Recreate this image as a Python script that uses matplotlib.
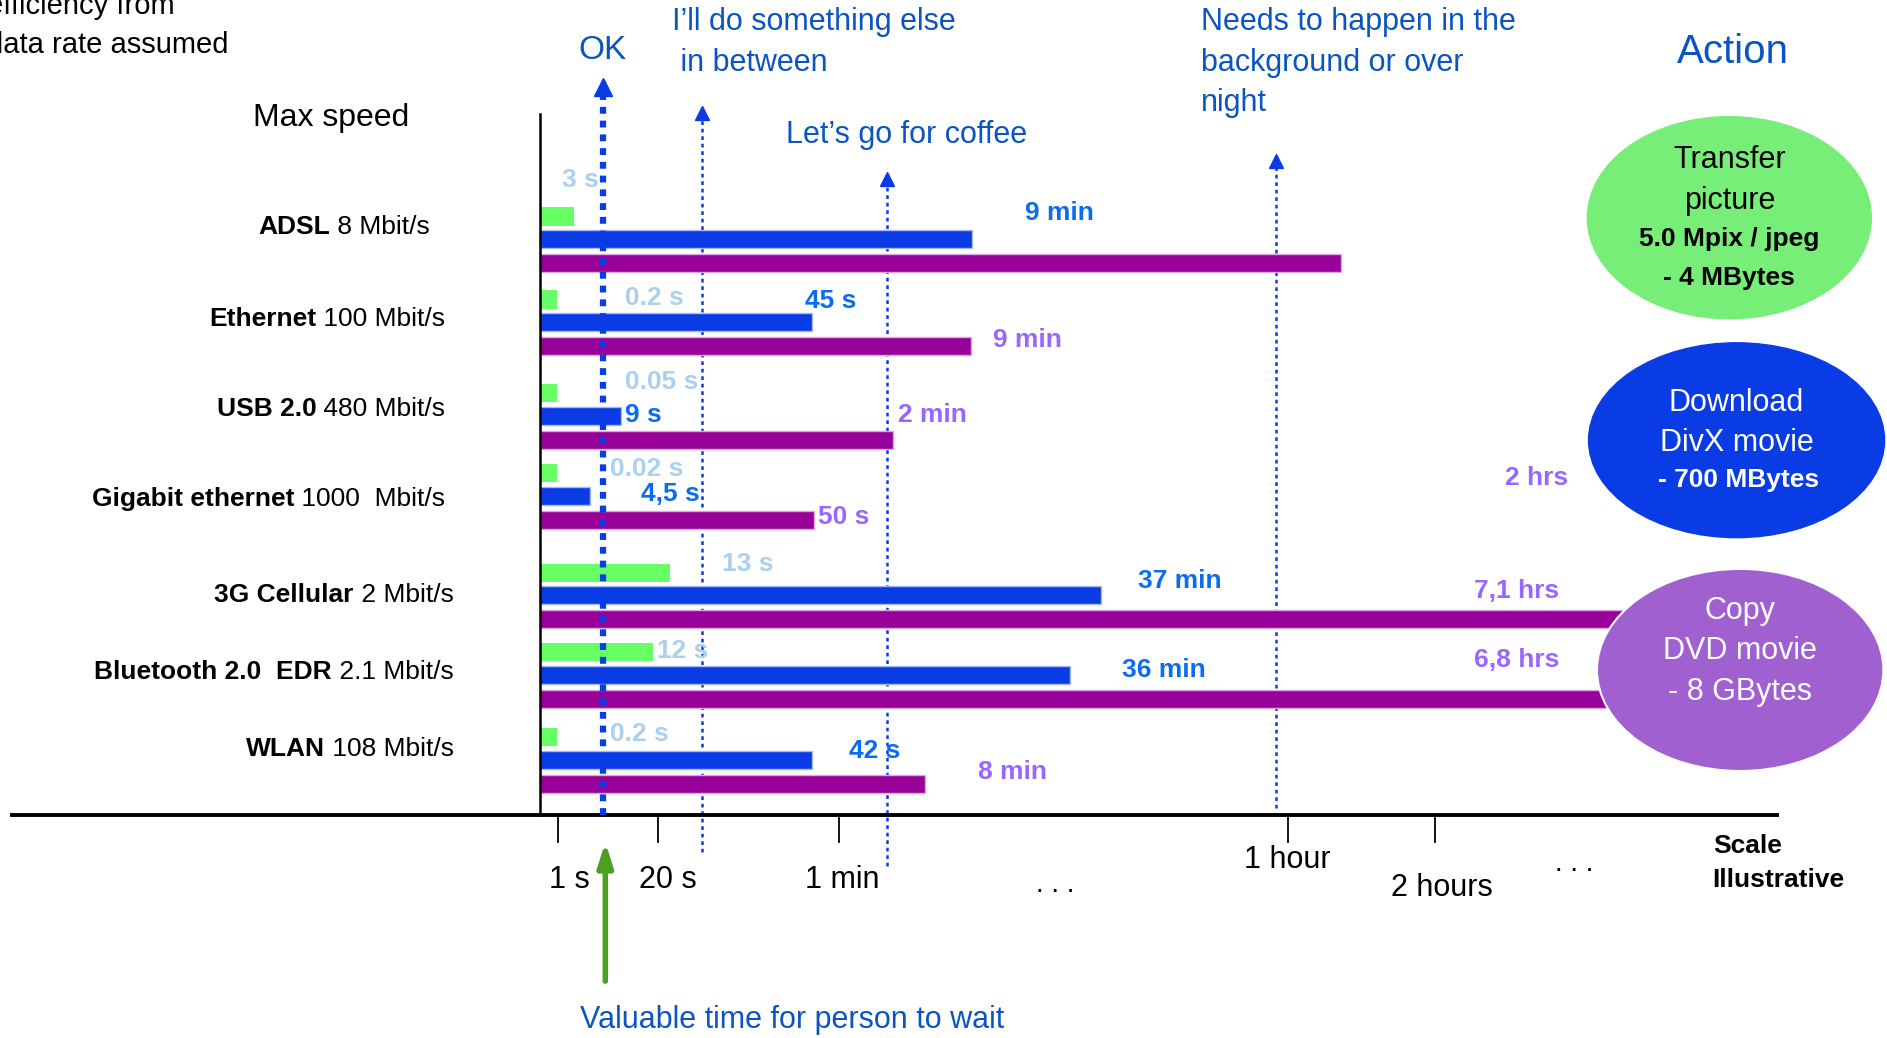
import matplotlib.pyplot as plt
from matplotlib.patches import Ellipse

plt.rcParams['font.family'] = ['Liberation Sans Narrow', 'Liberation Sans', 'DejaVu Sans']

# --- data (lengths on the illustrative time scale) ---
links = ['ADSL', 'Ethernet', 'USB 2.0', 'Gigabit ethernet', '3G Cellular', 'Bluetooth 2.0  EDR', 'WLAN']
speeds = [' 8 Mbit/s', ' 100 Mbit/s', ' 480 Mbit/s', ' 1000  Mbit/s', ' 2 Mbit/s', ' 2.1 Mbit/s', ' 108 Mbit/s']
picture_len = [28, 14, 14, 14, 108, 94, 14]
divx_len = [359, 226, 67, 41, 466, 440, 226]
dvd_len = [665, 358, 293, 227, 900, 896, 320]
picture_lbl = ['3 s', '0.2 s', '0.05 s', '0.02 s', '13 s', '12 s', '0.2 s']
divx_lbl = ['9 min', '45 s', '9 s', '4,5 s', '37 min', '36 min', '42 s']
dvd_lbl = ['2 hrs', '9 min', '2 min', '50 s', '7,1 hrs', '6,8 hrs', '8 min']

tick_lbl = ['1 s', '20 s', '1 min', '1 hour', '2 hours']
tick_pos = [15, 98, 248, 621, 743]

# --- layout (figure drawn in a 1568 x 863 frame) ---
x0 = 449
row_y = [199, 268, 346, 412, 495, 561, 632]
lbl_y = [189, 265, 340, 415, 495, 559, 623]
lbl_right = [357, 370, 370, 370, 377, 377, 377]
bh = 15
pic_lbl_pos = [(482, 150), (544, 248), (550, 318), (537, 390), (621, 469), (567, 541), (531, 610)]
divx_lbl_pos = [(880, 177), (690, 250), (535, 345), (557, 411), (980, 483), (967, 557), (727, 624)]
dvd_lbl_pos = [(1277, 397), (854, 283), (775, 345), (701, 430), (1260, 491), (1260, 549), (841, 642)]

GREEN = '#66FF66'
BLUE = '#0A3CE6'
PURPLE = '#990099'
C_LIGHT = '#AAD0F0'
C_BLUE = '#0A6CF0'
C_PURPLE = '#9966FF'
NOTE = '#0A55C0'

fig = plt.figure(figsize=(18.87, 10.38), dpi=100)
ax = fig.add_axes([0, 0, 1, 1])
ax.set_xlim(0, 1568)
ax.set_ylim(863, 0)
ax.axis('off')

ax.barh([y - 19 for y in row_y], picture_len, left=x0, height=bh, color=GREEN, zorder=3)
ax.barh(row_y, divx_len, left=x0, height=bh, color=BLUE, edgecolor='#A8B8F0', lw=1, zorder=3)
ax.barh([y + 20 for y in row_y], dvd_len, left=x0, height=bh, color=PURPLE, edgecolor='#D8A8E0', lw=1, zorder=3)

for i in range(len(links)):
    ax.text(pic_lbl_pos[i][0], pic_lbl_pos[i][1], picture_lbl[i], color=C_LIGHT, fontsize=19,
            fontweight='bold', ha='center', va='center', zorder=5)
    ax.text(divx_lbl_pos[i][0], divx_lbl_pos[i][1], divx_lbl[i], color=C_BLUE, fontsize=19,
            fontweight='bold', ha='center', va='center', zorder=5)
    ax.text(dvd_lbl_pos[i][0], dvd_lbl_pos[i][1], dvd_lbl[i], color=C_PURPLE, fontsize=19,
            fontweight='bold', ha='center', va='center', zorder=5)
    t = ax.text(lbl_right[i], lbl_y[i], speeds[i], fontsize=19, ha='right', va='center', color='black')
    ax.annotate(links[i], xycoords=t, xy=(0, 0.5), ha='right', va='center', fontsize=19,
                fontweight='bold', color='black')

# axes lines
ax.plot([x0, x0], [95, 678], color='black', lw=1.8, zorder=4)
ax.plot([10, 1477], [678, 678], color='black', lw=2.8, zorder=4)
for p in tick_pos:
    ax.plot([x0 + p, x0 + p], [680, 700], color='black', lw=1.3)
lbl_xy = [(473, 732), (555, 732), (700, 732), (1070, 715), (1198, 738)]
for (x, y), lbl in zip(lbl_xy, tick_lbl):
    ax.text(x, y, lbl, fontsize=22, ha='center', va='center')
ax.text(877, 736, '. . .', fontsize=20, ha='center', va='center')
ax.text(1308, 718, '. . .', fontsize=20, ha='center', va='center')
ax.text(1452, 703, 'Scale', fontsize=19, fontweight='bold', ha='center', va='center')
ax.text(1478, 732, 'Illustrative', fontsize=19, fontweight='bold', ha='center', va='center')

# waiting thresholds
ax.plot([501, 501], [678, 78], color='#0A3CE6', lw=4.5, ls=(0, (1.1, 1.1)), zorder=4)
ax.plot(501, 72, marker='^', ms=13, color='#0A3CE6', zorder=4)
for x, yb, yt in [(583, 708, 100), (737, 720, 155), (1060, 672, 140)]:
    ax.plot([x, x], [yb, yt], color='#0A3CE6', lw=1.8, ls=(0, (1.5, 1.5)), zorder=2)
    ax.plot(x, yt - 6, marker='^', ms=10, color='#0A3CE6', zorder=4)

ax.text(501, 42, 'OK', fontsize=24, color=NOTE, ha='center', va='center')
for k, line in enumerate(['I\u2019ll do something else', ' in between']):
    ax.text(558, 18 + 34 * k, line, fontsize=22, color=NOTE, ha='left', va='center')
ax.text(653, 112, 'Let\u2019s go for coffee', fontsize=22, color=NOTE, ha='left', va='center')
for k, line in enumerate(['Needs to happen in the', 'background or over', 'night']):
    ax.text(998, 18 + 34 * k, line, fontsize=22, color=NOTE, ha='left', va='center')
ax.text(-11, 5, 'efficiency from', fontsize=21, ha='left', va='center')
ax.text(-11, 37, 'data rate assumed', fontsize=21, ha='left', va='center')
ax.text(275, 98, 'Max speed', fontsize=23, ha='center', va='center')

# green arrow
ax.annotate('', xy=(503, 698), xytext=(503, 818),
            arrowprops=dict(arrowstyle='-|>,head_length=1.4,head_width=0.45', color='#4CA020', lw=4))
ax.text(658, 848, 'Valuable time for person to wait', fontsize=22, color=NOTE, ha='center', va='center')

# actions
wide = ['Liberation Sans', 'DejaVu Sans']
ax.text(1440, 43, 'Action', fontsize=29, color=NOTE, ha='center', va='center', family=wide)

ax.add_patch(Ellipse((1437, 181), 236, 168, color='#77EE77', zorder=6))
ax.add_patch(Ellipse((1443, 366), 246, 162, color='#0A3CE6', zorder=6))
ax.add_patch(Ellipse((1446, 557), 238, 168, facecolor='#A060D0', edgecolor='white', lw=1.5, zorder=6))

ellipse_lines = [
    (1437, 133, 'Transfer', 22, 'normal', 'black'),
    (1437, 167, 'picture', 22, 'normal', 'black'),
    (1437, 199, '5.0 Mpix / jpeg', 19, 'bold', 'black'),
    (1437, 231, '- 4 MBytes', 19, 'bold', 'black'),
    (1443, 335, 'Download', 22, 'normal', 'white'),
    (1443, 368, 'DivX movie', 22, 'normal', 'white'),
    (1445, 399, '- 700 MBytes', 19, 'bold', 'white'),
    (1446, 508, 'Copy', 22, 'normal', 'white'),
    (1446, 541, 'DVD movie', 22, 'normal', 'white'),
    (1446, 575, '- 8 GBytes', 22, 'normal', 'white'),
]
for x, y, s, fs, fw, c in ellipse_lines:
    ax.text(x, y, s, fontsize=fs, fontweight=fw, color=c, ha='center', va='center', family=wide, zorder=7)

fig.savefig('out.png', dpi=100)
